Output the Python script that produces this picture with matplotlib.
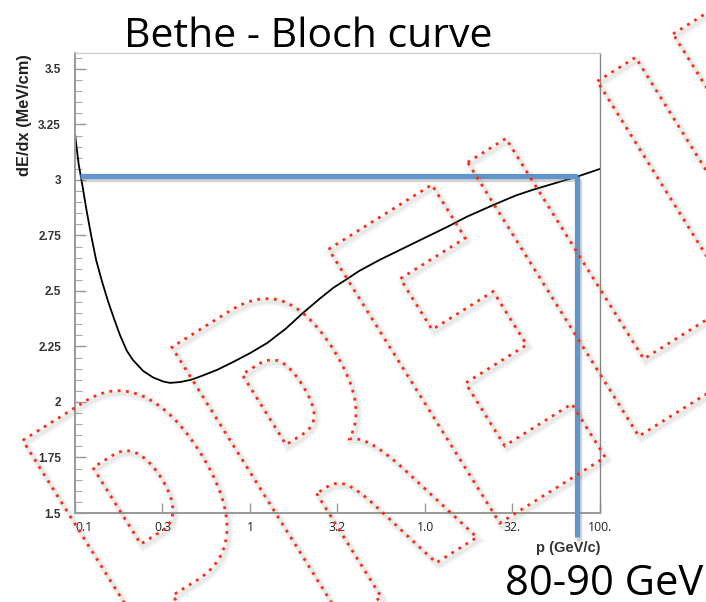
import numpy as np
import matplotlib
matplotlib.use("Agg")
import matplotlib.pyplot as plt
from matplotlib.textpath import TextPath
from matplotlib.font_manager import FontProperties
from matplotlib.path import Path
from matplotlib.patches import PathPatch
from matplotlib.ticker import FixedLocator, MultipleLocator, NullLocator
import matplotlib.patheffects as pe

# ---------------- data ----------------
momentum = [0.100, 0.102, 0.105, 0.110, 0.116, 0.123, 0.132, 0.143, 0.155, 0.168,
            0.181, 0.198, 0.214, 0.245, 0.28, 0.32, 0.35, 0.40, 0.46, 0.52,
            0.65, 0.80, 1.0, 1.25, 1.6, 2.0, 2.5, 3.0, 3.6, 4.2,
            5.5, 7.2, 10.0, 13.5, 17.4, 25.0, 33.0, 41.0, 55.0, 74.0, 100.0]
dedx = [3.21, 3.15, 3.07, 2.98, 2.87, 2.76, 2.64, 2.54, 2.45, 2.37,
        2.30, 2.23, 2.19, 2.14, 2.11, 2.092, 2.086, 2.09, 2.10, 2.115,
        2.145, 2.18, 2.22, 2.265, 2.33, 2.40, 2.465, 2.515, 2.555, 2.59,
        2.64, 2.685, 2.74, 2.79, 2.835, 2.89, 2.93, 2.955, 2.985, 3.015, 3.05]

x_tick_values = [0.1, 0.316, 1.0, 3.16, 10.0, 31.6, 100.0]
x_tick_labels = ["0.1", "0.3", "1", "3.2", "1.0", "32.", "100."]
y_tick_values = [1.5, 1.75, 2.0, 2.25, 2.5, 2.75, 3.0, 3.25, 3.5]
y_tick_labels = ["1.5", "1.75", "2", "2.25", "2.5", "2.75", "3", "3.25", "3.5"]

marker_level = 3.02          # horizontal blue guide (dE/dx)
marker_p_start = 0.107       # where horizontal guide starts
marker_p = 73.5              # vertical blue guide (p, ~80-90 GeV)
marker_bottom = 1.39         # vertical guide end (below axis)

title_text = "Bethe - Bloch curve"
energy_text = "80-90 GeV"
xlabel_text = "p (GeV/c)"
ylabel_text = "dE/dx (MeV/cm)"
watermark_text = "PRELIMINARY"

# ---------------- figure ----------------
W, H = 706, 602
fig = plt.figure(figsize=(W / 100, H / 100), dpi=100)
fig.patch.set_facecolor("white")

ax = fig.add_axes([75 / W, 1 - 513 / H, 525 / W, 460 / H])
ax.set_xscale("log")
ax.set_xlim(0.1, 100)
ax.set_ylim(1.5, 3.572)

ax.plot(momentum, dedx, color="black", lw=1.3, zorder=2)

blue = "#6196cc"
shadow = [pe.SimpleLineShadow(offset=(1.5, -2.5), shadow_color="gray", alpha=0.35), pe.Normal()]
ax.plot([marker_p_start, marker_p], [marker_level, marker_level], color=blue, lw=3.8,
        solid_capstyle="butt", zorder=3, path_effects=shadow)
ax.plot([marker_p, marker_p], [marker_level, marker_bottom], color=blue, lw=3.8,
        solid_capstyle="butt", zorder=3, clip_on=False, path_effects=shadow)

# ticks
ax.xaxis.set_major_locator(FixedLocator(x_tick_values))
ax.xaxis.set_minor_locator(NullLocator())
ax.set_xticklabels(x_tick_labels)
ax.yaxis.set_major_locator(FixedLocator(y_tick_values))
ax.set_yticklabels(y_tick_labels)
ax.yaxis.set_minor_locator(MultipleLocator(0.05))

ax.tick_params(axis="x", which="major", direction="in", length=7, width=1.0,
               color="#999999", pad=6, labelsize=8.8, labelcolor="#222222")
ax.tick_params(axis="y", which="major", direction="in", length=8, width=1.0,
               color="#999999", pad=10, labelsize=8.5, labelcolor="#333333")
ax.tick_params(axis="y", which="minor", direction="in", length=5, width=0.8,
               color="#aaaaaa")
for lab in ax.get_yticklabels():
    lab.set_fontfamily("Liberation Sans")
    lab.set_fontweight("bold")
for lab in ax.get_xticklabels():
    lab.set_fontfamily("Open Sans")
ax.get_xticklabels()[0].set_horizontalalignment("left")

for side in ["left", "bottom"]:
    ax.spines[side].set_color("#999999")
    ax.spines[side].set_linewidth(1.4)
ax.spines["right"].set_color("#888888")
ax.spines["right"].set_linewidth(1.0)
ax.spines["top"].set_color("#cccccc")
ax.spines["top"].set_linewidth(1.0)

fig.text(600 / W, 1 - 548 / H, xlabel_text, ha="right", va="center",
         fontsize=10.5, fontweight="bold", family="Liberation Sans", color="#333333")
fig.text(24 / W, 1 - 115 / H, ylabel_text, ha="center", va="center", rotation=90,
         fontsize=11.8, fontweight="bold", family="Liberation Sans", color="#222222")

fig.text(308 / W, 1 - 47 / H, title_text, ha="center", va="baseline",
         fontsize=29.5, family="Open Sans", color="black")
fig.text(703 / W, 1 - 595 / H, energy_text, ha="right", va="baseline",
         fontsize=30, family="Open Sans", color="black")

# ---------------- watermark overlay (pixel coordinates) ----------------
ov = fig.add_axes([0, 0, 1, 1], zorder=10)
ov.set_xlim(0, W)
ov.set_ylim(H, 0)
ov.axis("off")
ov.patch.set_alpha(0)

fp = FontProperties(family="DejaVu Sans", weight="bold")
cap = TextPath((0, 0), "E", size=1, prop=fp).get_extents().ymax
tp = TextPath((0, 0), watermark_text, size=1, prop=fp)
verts = tp.vertices
codes = tp.codes
u0 = verts[:, 0].min()
sx, sy = 240.0, 323.0 / cap
theta = np.deg2rad(32.0)
bx, by = np.cos(theta), -np.sin(theta)
nx, ny = -np.sin(theta), -np.cos(theta)
x0, y0 = 4.0, 452.0
U = sx * (verts[:, 0] - u0)
V = sy * (verts[:, 1] - cap)
X = x0 + U * bx + V * nx
Y = y0 + U * by + V * ny

sh1 = Path(np.column_stack([X + 2.5, Y + 3.0]), codes)
ov.add_patch(PathPatch(sh1, facecolor="none", edgecolor="#808080", lw=6, alpha=0.07))
ov.add_patch(PathPatch(sh1, facecolor="none", edgecolor="#808080", lw=3, alpha=0.10))
wm = Path(np.column_stack([X, Y]), codes)
ov.add_patch(PathPatch(wm, facecolor="none", edgecolor="#ff2a10", lw=2.0,
                       linestyle=(0, (1, 2))))

fig.savefig("out.png", dpi=100)
